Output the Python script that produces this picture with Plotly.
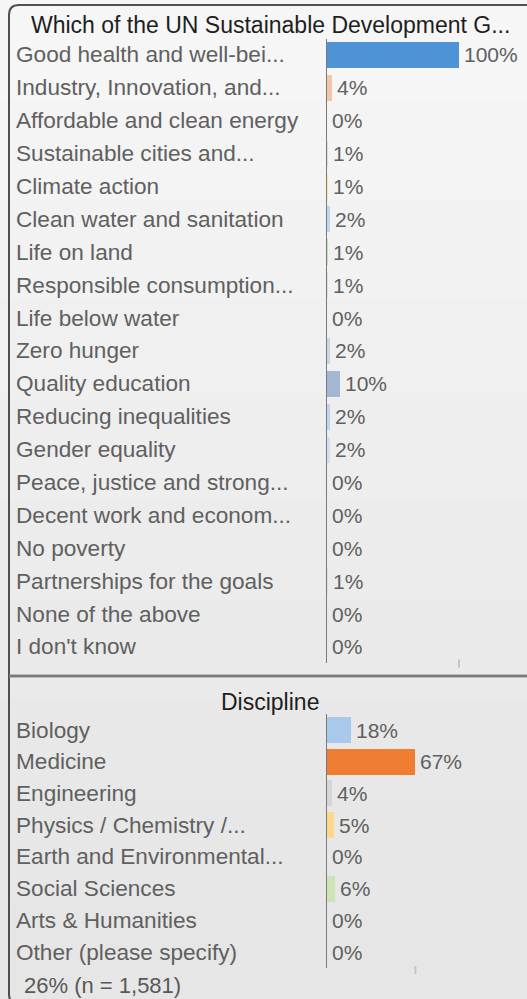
import plotly.graph_objects as go

W, H = 527, 999

title_top = "Which of the UN Sustainable Development G..."
title_bottom = "Discipline"
footer = "26% (n = 1,581)"

sdg_labels = [
    "Good health and well-bei...", "Industry, Innovation, and...",
    "Affordable and clean energy", "Sustainable cities and...",
    "Climate action", "Clean water and sanitation", "Life on land",
    "Responsible consumption...", "Life below water", "Zero hunger",
    "Quality education", "Reducing inequalities", "Gender equality",
    "Peace, justice and strong...", "Decent work and econom...",
    "No poverty", "Partnerships for the goals", "None of the above",
    "I don't know",
]
sdg_values = [100, 4, 0, 1, 1, 2, 1, 1, 0, 2, 10, 2, 2, 0, 0, 0, 1, 0, 0]
sdg_colors = [
    "#4e93d6", "#f2c6a6", "#d0d0d0", "#dcdcdc", "#ffe699", "#bdd7ee",
    "#c5e0b4", "#dddddd", "#d0d0d0", "#c9d6e8", "#a3b6d2", "#bdd7ee",
    "#cfe0f0", "#d0d0d0", "#d0d0d0", "#d0d0d0", "#e0e0e0", "#d0d0d0",
    "#d0d0d0",
]

disc_labels = [
    "Biology", "Medicine", "Engineering", "Physics / Chemistry /...",
    "Earth and Environmental...", "Social Sciences", "Arts & Humanities",
    "Other (please specify)",
]
disc_values = [18, 67, 4, 5, 0, 6, 0, 0]
disc_colors = ["#a9c9ec", "#ee7d31", "#d6d6d6", "#fbd88a", "#d0d0d0",
               "#cde4b8", "#d0d0d0", "#d0d0d0"]

FONT = "Liberation Sans, Arial, sans-serif"
LABEL_C = "#606060"


def px_x(p):
    return p / W


def px_y(p):
    return 1 - p / H


axis_x = 327
scale = 132 / 100.0
xmax = (W - axis_x) / scale

fig = go.Figure()
fig.add_trace(go.Bar(
    x=sdg_values, y=sdg_labels, orientation="h", marker_color=sdg_colors,
    marker_line_width=0, width=0.79, xaxis="x", yaxis="y",
    hoverinfo="skip",
))
fig.add_trace(go.Bar(
    x=disc_values, y=disc_labels, orientation="h", marker_color=disc_colors,
    marker_line_width=0, width=0.82, xaxis="x2", yaxis="y2",
    hoverinfo="skip",
))

top_c0, top_c1 = 55, 647
top_band = (top_c1 - top_c0) / (len(sdg_labels) - 1)
top_d0, top_d1 = top_c0 - top_band / 2, top_c1 + top_band / 2
bot_c0, bot_c1 = 730, 952
bot_band = (bot_c1 - bot_c0) / (len(disc_labels) - 1)
bot_d0, bot_d1 = bot_c0 - bot_band / 2, bot_c1 + bot_band / 2

common_x = dict(range=[0, xmax], domain=[px_x(axis_x), 1], showgrid=False,
                zeroline=False, showticklabels=False, showline=False,
                fixedrange=True)
common_y = dict(type="category", showgrid=False, zeroline=False,
                showticklabels=False, showline=True, linecolor="#7a7a7a",
                linewidth=1, ticks="", fixedrange=True)

fig.update_layout(
    width=W, height=H, margin=dict(l=0, r=0, t=0, b=0),
    paper_bgcolor="#ececec", plot_bgcolor="rgba(0,0,0,0)",
    showlegend=False, bargap=0,
    xaxis=dict(**common_x, anchor="y"),
    yaxis=dict(**common_y, anchor="x",
               domain=[px_y(top_d1), px_y(top_d0)],
               range=[len(sdg_labels) - 0.5, -0.5]),
    xaxis2=dict(**common_x, anchor="y2"),
    yaxis2=dict(**common_y, anchor="x2",
                domain=[px_y(bot_d1), px_y(bot_d0)],
                range=[len(disc_labels) - 0.5, -0.5]),
)

shapes = []
bands = ["#f6f6f6", "#f4f4f4", "#f2f2f2", "#f0f0f0", "#eeeeee",
         "#ececec", "#eaeaea", "#e8e8e8", "#e7e7e7", "#e6e6e6"]
n = len(bands)
for i, c in enumerate(bands):
    shapes.append(dict(type="rect", xref="paper", yref="paper", x0=0, x1=1,
                       y0=1 - (i + 1) / n, y1=1 - i / n, fillcolor=c,
                       line_width=0, layer="below"))
r = 10
x0b, y0b, y1b = 9, 5, 1004
path = (f"M {px_x(W+5)} {px_y(y0b)} L {px_x(x0b + r)} {px_y(y0b)} "
        f"Q {px_x(x0b)} {px_y(y0b)} {px_x(x0b)} {px_y(y0b + r)} "
        f"L {px_x(x0b)} {px_y(y1b - r)} "
        f"Q {px_x(x0b)} {px_y(y1b)} {px_x(x0b + r)} {px_y(y1b)} "
        f"L {px_x(W+5)} {px_y(y1b)}")
shapes.append(dict(type="path", xref="paper", yref="paper", path=path,
                   line=dict(color="#4f4f4f", width=2)))
shapes.append(dict(type="line", xref="paper", yref="paper",
                   x0=px_x(x0b), x1=1, y0=px_y(676), y1=px_y(676),
                   line=dict(color="#8a8a8a", width=3)))
shapes.append(dict(type="line", xref="paper", yref="paper",
                   x0=px_x(x0b), x1=1, y0=px_y(676), y1=px_y(676),
                   line=dict(color="#6a6a6a", width=1)))
shapes.append(dict(type="line", xref="x", yref="paper",
                   x0=max(sdg_values), x1=max(sdg_values),
                   y0=px_y(top_d1 + 4), y1=px_y(top_d1 - 4),
                   line=dict(color="#c4c4c4", width=2)))
shapes.append(dict(type="line", xref="x2", yref="paper",
                   x0=max(disc_values), x1=max(disc_values),
                   y0=px_y(bot_d1 + 6), y1=px_y(bot_d1 - 2),
                   line=dict(color="#c4c4c4", width=2)))
fig.update_layout(shapes=shapes)

ann = []
ann.append(dict(text=title_top, xref="paper", yref="paper", x=px_x(270),
                y=px_y(25), xanchor="center", yanchor="middle",
                showarrow=False, font=dict(family=FONT, size=23,
                                           color="#1e1e1e")))
ann.append(dict(text=title_bottom, xref="paper", yref="paper", x=px_x(270),
                y=px_y(702), xanchor="center", yanchor="middle",
                showarrow=False, font=dict(family=FONT, size=23,
                                           color="#1e1e1e")))
ann.append(dict(text=footer, xref="paper", yref="paper", x=px_x(22),
                y=px_y(985), xanchor="left", yanchor="middle",
                showarrow=False, font=dict(family=FONT, size=22,
                                           color="#585858")))

for lab, v in zip(sdg_labels, sdg_values):
    ann.append(dict(text=lab, xref="paper", yref="y", x=px_x(14), y=lab,
                    xanchor="left", yanchor="middle", showarrow=False,
                    font=dict(family=FONT, size=22.6, color=LABEL_C)))
    ann.append(dict(text=f"{v}%", xref="x", yref="y", x=v, y=lab,
                    xanchor="left", yanchor="middle", xshift=3,
                    showarrow=False,
                    font=dict(family=FONT, size=21, color=LABEL_C)))
for lab, v in zip(disc_labels, disc_values):
    ann.append(dict(text=lab, xref="paper", yref="y2", x=px_x(14), y=lab,
                    xanchor="left", yanchor="middle", showarrow=False,
                    font=dict(family=FONT, size=22.6, color=LABEL_C)))
    ann.append(dict(text=f"{v}%", xref="x2", yref="y2", x=v, y=lab,
                    xanchor="left", yanchor="middle", xshift=3,
                    showarrow=False,
                    font=dict(family=FONT, size=21, color=LABEL_C)))
fig.update_layout(annotations=ann)

fig.write_html(
    "out.html",
    config={"displayModeBar": False, "staticPlot": True},
    post_script="document.body.style.margin='0';"
                "document.body.style.overflow='hidden';",
)
